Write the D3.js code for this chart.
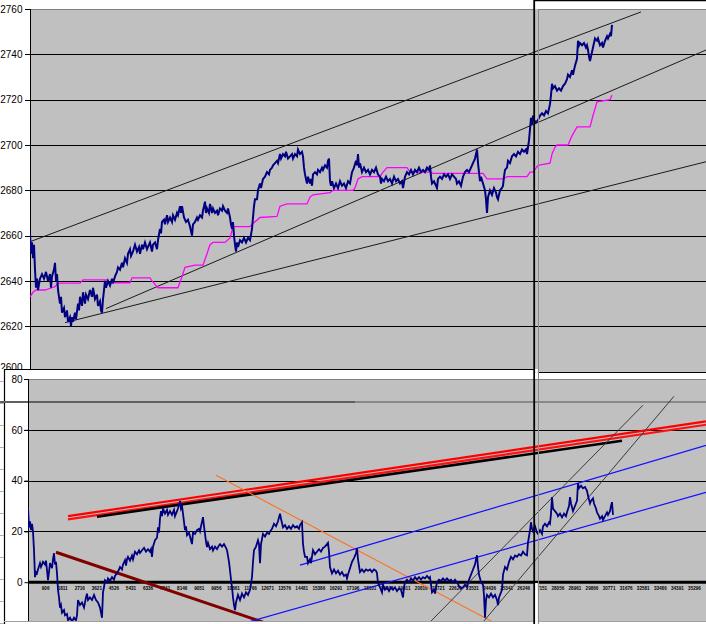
<!DOCTYPE html>
<html><head><meta charset="utf-8">
<script src="https://cdn.jsdelivr.net/npm/d3@7/dist/d3.min.js"></script>
<style>body{margin:0;background:#fff}svg{display:block;font-family:"Liberation Sans",Arial,sans-serif}</style>
</head><body><svg id="c" width="706" height="624"></svg>
<script>
// ---------- DATA ----------
// x = tick (observation) number, y = value
const priceSeries = [[1,2661],[53,2652],[106,2657],[159,2650],[212,2656],[265,2645],[318,2637],[371,2641],[424,2636],[530,2641],[636,2643],[742,2641],[848,2644],[954,2640],[1060,2643],[1113,2637],[1166,2642],[1272,2645],[1325,2648],[1378,2640],[1431,2643],[1484,2636],[1590,2630],[1643,2633],[1696,2626],[1802,2628],[1855,2624],[1961,2627],[2014,2622],[2120,2624],[2173,2620],[2226,2624],[2279,2622],[2385,2626],[2438,2623],[2544,2630],[2597,2627],[2650,2633],[2756,2629],[2809,2635],[2915,2630],[2968,2634],[3074,2632],[3180,2636],[3286,2633],[3339,2637],[3445,2632],[3551,2634],[3604,2629],[3710,2631],[3763,2627],[3816,2626],[3869,2632],[3975,2640],[4028,2637],[4134,2640],[4240,2638],[4346,2641],[4399,2639],[4505,2642],[4611,2644],[4664,2646],[4770,2645],[4876,2648],[4929,2646],[5035,2650],[5141,2648],[5194,2652],[5300,2654],[5353,2651],[5459,2653],[5565,2656],[5671,2653],[5777,2655],[5830,2652],[5936,2656],[5989,2654],[6095,2657],[6201,2654],[6254,2655],[6360,2657],[6466,2653],[6519,2656],[6625,2657],[6731,2654],[6784,2658],[6890,2663],[6943,2661],[6996,2666],[7102,2667],[7155,2665],[7261,2669],[7314,2666],[7420,2668],[7526,2666],[7579,2669],[7685,2667],[7791,2670],[7844,2669],[7950,2673],[8003,2670],[8056,2673],[8162,2668],[8268,2666],[8374,2667],[8480,2664],[8586,2660],[8639,2665],[8745,2666],[8851,2668],[8904,2667],[9010,2669],[9116,2668],[9169,2671],[9222,2673],[9275,2675],[9328,2670],[9381,2672],[9487,2670],[9540,2674],[9646,2670],[9699,2672],[9805,2670],[9911,2671],[9964,2669],[10070,2672],[10176,2671],[10229,2673],[10335,2671],[10441,2670],[10494,2672],[10600,2668],[10653,2665],[10706,2663],[10759,2666],[10812,2660],[10865,2656],[10918,2653],[10971,2657],[11024,2655],[11130,2658],[11236,2657],[11342,2659],[11448,2657],[11554,2659],[11660,2658],[11766,2663],[11819,2668],[11872,2673],[11925,2676],[12031,2676],[12084,2680],[12190,2683],[12243,2681],[12349,2685],[12455,2686],[12561,2688],[12667,2687],[12720,2689],[12826,2690],[12879,2691],[12985,2692],[13091,2693],[13144,2692],[13250,2696],[13303,2694],[13409,2696],[13515,2695],[13568,2697],[13674,2694],[13780,2695],[13886,2696],[13939,2694],[14045,2696],[14151,2695],[14204,2698],[14310,2696],[14416,2697],[14469,2695],[14522,2690],[14575,2687],[14628,2685],[14681,2683],[14734,2686],[14840,2683],[14893,2685],[14946,2682],[14999,2687],[15105,2688],[15211,2687],[15264,2689],[15370,2688],[15476,2690],[15529,2689],[15635,2691],[15741,2690],[15794,2693],[15847,2694],[15900,2684],[15953,2682],[16006,2684],[16112,2681],[16218,2683],[16324,2681],[16430,2684],[16536,2682],[16642,2683],[16748,2681],[16854,2684],[16960,2683],[17066,2688],[17172,2690],[17278,2693],[17331,2691],[17384,2696],[17437,2690],[17490,2692],[17596,2688],[17702,2690],[17808,2688],[17914,2689],[18020,2687],[18126,2689],[18232,2688],[18338,2690],[18444,2687],[18550,2686],[18603,2683],[18656,2685],[18762,2684],[18868,2686],[18974,2684],[19080,2685],[19186,2683],[19292,2686],[19398,2684],[19504,2685],[19610,2683],[19716,2684],[19769,2681],[19875,2686],[19981,2688],[20087,2687],[20193,2689],[20299,2687],[20405,2689],[20511,2688],[20617,2690],[20723,2688],[20829,2689],[20935,2688],[21041,2690],[21147,2689],[21200,2691],[21253,2686],[21306,2683],[21412,2684],[21518,2682],[21571,2681],[21624,2685],[21730,2686],[21836,2685],[21942,2687],[22048,2686],[22154,2687],[22260,2685],[22366,2687],[22472,2686],[22578,2685],[22631,2683],[22737,2684],[22843,2682],[22949,2686],[23055,2688],[23161,2689],[23267,2688],[23373,2690],[23479,2692],[23585,2694],[23638,2696],[23691,2698],[23744,2692],[23797,2688],[23850,2684],[23903,2686],[24009,2683],[24115,2680],[24168,2676],[24221,2670],[24274,2677],[24380,2680],[24486,2678],[24592,2681],[24698,2679],[24751,2677],[24804,2676],[24910,2680],[25016,2681],[25069,2682],[25122,2686],[25175,2689],[25281,2690],[25334,2693],[25440,2692],[25546,2695],[25652,2696],[25758,2695],[25864,2697],[25970,2696],[26076,2698],[26182,2697],[26288,2698],[26341,2696],[26394,2699],[26447,2702],[26500,2707],[26553,2712],[26606,2709],[26659,2713],[26712,2711],[26818,2710],[26924,2711],[27030,2713],[27136,2714],[27242,2713],[27348,2715],[27454,2714],[27560,2718],[27613,2722],[27666,2727],[27719,2725],[27825,2726],[27931,2724],[28037,2725],[28143,2724],[28249,2726],[28355,2727],[28461,2729],[28514,2731],[28620,2730],[28726,2733],[28779,2731],[28885,2735],[28991,2738],[29044,2746],[29097,2744],[29150,2745],[29256,2744],[29362,2745],[29468,2743],[29521,2744],[29574,2742],[29627,2739],[29680,2737],[29733,2739],[29839,2743],[29892,2745],[29945,2747],[30051,2746],[30104,2747],[30210,2744],[30316,2745],[30369,2743],[30475,2746],[30581,2748],[30634,2747],[30740,2749],[30793,2748],[30846,2753]];

const priceAverage = [[1,2633],[159,2635],[318,2636],[795,2636],[1166,2637],[1325,2637.5],[1484,2639],[2650,2639],[2809,2640.5],[4081,2640.5],[4134,2639.2],[5300,2639.2],[5406,2641.4],[6360,2641.4],[6466,2640],[6625,2638.5],[6784,2637],[7844,2637],[8056,2642],[8215,2646],[8745,2647],[9169,2647],[9381,2652],[9540,2656],[9699,2657],[10335,2657],[10600,2659],[10759,2664],[11660,2664],[11766,2665],[12190,2668],[13091,2668.5],[13250,2673],[13621,2674],[14681,2674],[14840,2677],[14999,2678],[15900,2679],[16059,2680],[17119,2680],[17225,2681],[17384,2685],[17596,2686],[18550,2686],[18709,2688],[18921,2690],[19981,2690],[20140,2688],[21200,2688],[21359,2687.5],[24009,2687.5],[24221,2685],[25069,2685],[25281,2686],[26341,2686],[26500,2688],[26659,2688],[26924,2691],[27560,2692],[27666,2696],[27825,2699],[27931,2700],[28514,2700],[28726,2704],[28991,2708],[29680,2708],[29839,2713],[30051,2719],[30740,2720],[30846,2722]];

const priceTrendLines = [
  [[0,2657.3],[32383,2758.7]],
  [[4028,2627.8],[35828,2741.9]],
  [[1855,2621.6],[35828,2692.6]]
];
const priceTicks = [2760,2740,2720,2700,2680,2660,2640,2620,2600];

const oscSeries = [[1,29.5],[53,21.6],[106,24],[159,20.5],[212,23],[265,20],[318,12.6],[371,2],[424,4],[477,3.5],[530,5],[636,7.5],[689,6],[795,8],[901,7],[954,8.5],[1007,4.7],[1060,0.8],[1113,4],[1166,7.5],[1272,5.5],[1325,9],[1378,11.4],[1431,7],[1484,8],[1537,3.5],[1590,-3],[1643,-6],[1696,-10],[1749,-9],[1802,-12],[1908,-11],[1961,-13],[2067,-12.5],[2120,-15],[2226,-14],[2332,-15.5],[2438,-14],[2544,-15],[2597,-13],[2650,-7],[2756,-9],[2862,-8],[2968,-10],[3074,-6],[3127,-4.5],[3180,-7],[3286,-6],[3392,-7],[3498,-5],[3604,-7],[3710,-8],[3816,-10],[3869,-12],[3922,-14],[3975,-4],[4028,-2],[4081,0.8],[4187,0],[4240,1.5],[4346,0.5],[4452,2],[4558,1],[4611,2.5],[4717,3.5],[4823,5],[4876,6],[4982,5],[5035,7],[5141,8.7],[5194,6.5],[5247,9],[5300,10],[5406,8.5],[5512,10.5],[5565,9],[5671,12],[5777,11],[5883,12.5],[5936,11.5],[6042,12.6],[6148,13.5],[6254,12],[6360,13],[6466,12],[6519,13],[6572,10],[6625,14],[6731,16.5],[6837,17.5],[6890,21.6],[6943,19.5],[6996,25],[7049,28],[7102,26],[7155,29],[7261,27],[7367,28.5],[7420,26.5],[7526,28],[7632,26.5],[7738,28.5],[7791,26],[7897,28],[7950,29],[8056,32],[8109,29],[8162,30],[8215,27],[8321,20.5],[8374,22],[8427,18.5],[8533,19.5],[8586,18],[8692,15],[8745,19.5],[8851,19],[8957,20.5],[9063,21],[9116,20],[9169,22],[9275,25.6],[9328,22],[9381,19],[9434,16],[9487,13.8],[9540,15.5],[9646,13],[9752,14],[9805,12.5],[9911,14],[10017,13],[10123,14.5],[10176,15],[10282,14],[10388,15],[10494,13.5],[10547,12.6],[10653,8],[10706,4.7],[10759,1],[10812,-2],[10865,-6],[10918,-9],[10971,-11],[11024,-8],[11130,-5],[11236,-7],[11342,-4.5],[11448,-6],[11554,-4],[11660,-5],[11766,-3],[11872,2],[11925,8],[11978,12.6],[12084,14],[12190,16.5],[12243,15],[12296,7.5],[12349,15],[12455,19],[12561,18],[12667,19.5],[12773,19],[12826,20],[12932,21],[13038,23],[13144,22],[13250,24],[13356,27],[13409,25],[13515,21.6],[13621,22.5],[13727,21],[13833,22],[13939,21],[14045,22.5],[14151,21.5],[14257,22],[14363,21],[14416,22.5],[14522,23.6],[14575,15],[14628,12],[14681,10],[14787,10],[14840,7.5],[14946,9],[14999,7.5],[15105,12.6],[15211,11],[15317,12],[15423,13],[15529,12],[15635,13.5],[15741,14],[15847,15],[15900,15.5],[15953,12],[16006,6],[16112,3.5],[16218,5],[16324,3.5],[16430,4.5],[16536,3],[16642,4],[16748,2.5],[16854,3],[16907,1.5],[16960,3],[17066,5.5],[17172,8],[17278,9.5],[17384,11.4],[17437,13.4],[17490,9],[17596,4],[17702,5],[17808,4],[17914,5],[18020,4.5],[18126,5],[18232,4],[18338,5],[18444,4.5],[18497,3.5],[18550,-0.4],[18656,-2],[18762,-4],[18815,-1],[18921,-3],[19027,-2],[19133,-3.5],[19239,-2],[19345,-3],[19451,-2],[19557,-3.5],[19663,-2.5],[19769,-3],[19875,-6],[19928,-2],[19981,0],[20087,1],[20193,0],[20299,1.5],[20405,0.5],[20511,2],[20617,1],[20723,2],[20829,1],[20935,2],[21041,1.5],[21147,2.5],[21253,1.5],[21306,2],[21359,-1],[21412,-4],[21518,-3],[21571,-4.5],[21677,0],[21783,1],[21889,0.5],[21995,1.5],[22101,0.5],[22207,1.5],[22313,0.5],[22419,1],[22525,0],[22631,1],[22737,0],[22843,-1.5],[22949,-2.4],[23055,-2],[23161,-1],[23267,-2],[23373,1],[23479,3],[23585,5],[23691,7],[23744,9],[23797,10.6],[23850,6],[23903,3],[24009,0],[24115,-1],[24168,-5],[24221,-14],[24274,-7],[24327,-5],[24433,-6],[24539,-4.5],[24645,-6],[24751,-5],[24857,-7],[24910,-9],[24963,-6],[25069,-4],[25122,-3],[25175,3],[25281,6],[25387,5],[25493,8],[25599,10],[25705,9],[25811,10.5],[25917,10],[26023,11],[26129,10.5],[26235,12],[26341,11],[26447,10.6],[26500,15.7],[26553,18],[26606,20.5],[26659,23.6],[26712,21],[26765,20],[26871,22],[26977,19.5],[27030,19],[27136,20.5],[27242,19],[27295,22],[27401,23],[27507,22],[27613,23.5],[27666,23],[27719,27],[27772,33.5],[27825,29],[27931,28],[28037,27],[28090,26],[28196,27],[28302,25.5],[28408,27],[28514,26],[28567,27.5],[28673,30],[28726,33.5],[28779,31],[28885,28],[28991,30],[29097,32],[29150,39],[29203,37],[29309,38],[29415,37],[29521,37.5],[29627,36],[29680,34],[29786,31],[29839,32],[29945,33],[29998,31],[30104,29],[30157,27.5],[30263,26],[30316,25],[30422,26],[30475,24.5],[30581,26],[30687,27.5],[30740,26.5],[30846,28],[30899,30],[30952,31.5],[31005,26.5]];

const oscTrendLines = [
  {name:"redA",   color:"#ff0000", width:2.2, pts:[[2120,26.0],[35934,63.3]]},
  {name:"redB",   color:"#ff1010", width:2.2, pts:[[2120,24.7],[35934,62.0]]},
  {name:"black",  color:"#000000", width:2.6, pts:[[3657,25.8],[31482,55.7]]},
  {name:"maroon", color:"#800000", width:3,   pts:[[1484,11.8],[12455,-15.7]]},
  {name:"orange", color:"#ff7020", width:1.1, pts:[[9964,42.1],[24645,-15.7]]},
  {name:"blueU",  color:"#1010ff", width:1.2, pts:[[14416,6.7],[35934,53.9]]},
  {name:"blueL",  color:"#1010ff", width:1.2, pts:[[11660,-15.7],[35934,35.4]]},
  {name:"chanA",  color:"#3a3a3a", width:1,   pts:[[21306,-15.7],[32595,69.7]]},
  {name:"chanB",  color:"#3a3a3a", width:1,   pts:[[24115,-15.7],[34238,73.2]]}
];
const oscTicks = [80,60,40,20,0];
const categoryLabels = [906,1811,2716,3621,4526,5431,6336,7241,8146,9051,9956,10861,11766,12671,13576,14481,15386,16291,17196,18101,19006,19911,20816,21721,22626,23531,24436,25341,26246,27151,28056,28961,29866,30771,31676,32581,33486,34391,35296];

// ---------- LAYOUT ----------
const svg = d3.select("#c");
const tickMax = 35934;
const gray = "#c0c0c0";

const xT = d3.scaleLinear().domain([0, tickMax]).range([30, 708]);
const yT = d3.scaleLinear().domain([2600, 2760]).range([371.6, 9]);
const xB = d3.scaleLinear().domain([0, tickMax]).range([28, 706]);
const yB = d3.scaleLinear().domain([-15, 80]).range([620.3, 379]);

const defs = svg.append("defs");
defs.append("clipPath").attr("id","clipT").append("rect").attr("x",30).attr("y",9).attr("width",676).attr("height",363);
defs.append("clipPath").attr("id","clipB").append("rect").attr("x",28).attr("y",379).attr("width",678).attr("height",242);
defs.append("clipPath").attr("id","clipLab").append("rect").attr("x",0).attr("y",0).attr("width",30).attr("height",369);

// ---- TOP ----
svg.append("rect").attr("x",30).attr("y",9).attr("width",676).attr("height",363).attr("fill",gray);
const gT = svg.append("g");
gT.append("g").selectAll("line").data(priceTicks.filter(d=>d<2760 && d>2600)).join("line")
  .attr("x1",25).attr("x2",706).attr("y1",d=>Math.round(yT(d))+0.5).attr("y2",d=>Math.round(yT(d))+0.5)
  .attr("stroke","#000").attr("stroke-width",1.2);
gT.append("line").attr("x1",30).attr("x2",534).attr("y1",9.5).attr("y2",9.5).attr("stroke","#808080");
gT.append("line").attr("x1",25).attr("x2",30).attr("y1",9.5).attr("y2",9.5).attr("stroke","#000");
const axT = d3.axisLeft(yT).tickValues(priceTicks).tickSize(0).tickPadding(8).tickFormat(d3.format("d"));
const gax = gT.append("g").attr("clip-path","url(#clipLab)")
  .append("g").attr("transform","translate(30.5,0)").call(axT);
gax.select(".domain").remove();
gax.selectAll("text").attr("font-size",10).attr("fill","#000").attr("font-family","Liberation Sans, Arial, sans-serif");
gax.selectAll(".tick").filter(d=>d===2600).select("text").attr("y",-4);
gT.append("line").attr("x1",30.5).attr("x2",30.5).attr("y1",9).attr("y2",370).attr("stroke","#000");

const pT = gT.append("g").attr("clip-path","url(#clipT)");
const lineT = d3.line().x(d=>xT(d[0])).y(d=>yT(d[1]));
pT.selectAll("path.trend").data(priceTrendLines).join("path").attr("class","trend")
  .attr("d",lineT).attr("fill","none").attr("stroke","#1a1a1a").attr("stroke-width",1);
pT.append("path").datum(priceAverage).attr("d",lineT).attr("fill","none").attr("stroke","#ff00ff").attr("stroke-width",1.3);
pT.append("path").datum(priceSeries).attr("d",lineT).attr("fill","none").attr("stroke","#000080").attr("stroke-width",2);

// ---- BOTTOM FRAME ----
svg.append("rect").attr("x",4).attr("y",369).attr("width",531).attr("height",255).attr("fill","#fff");
svg.append("rect").attr("x",534).attr("y",372).attr("width",172).attr("height",252).attr("fill","#fff");
svg.append("line").attr("x1",4).attr("x2",535).attr("y1",369.5).attr("y2",369.5).attr("stroke","#000").attr("stroke-width",1.2);
svg.append("line").attr("x1",534).attr("x2",706).attr("y1",372.5).attr("y2",372.5).attr("stroke","#000").attr("stroke-width",1.2);
svg.append("line").attr("x1",4.5).attr("x2",4.5).attr("y1",369).attr("y2",624).attr("stroke","#000").attr("stroke-width",1.2);
svg.append("g").selectAll("line").data(d3.range(381, 624, 22)).join("line")
  .attr("x1",0).attr("x2",4).attr("y1",d=>d+0.5).attr("y2",d=>d+0.5).attr("stroke","#b0b0b0");

svg.append("rect").attr("x",28).attr("y",379).attr("width",678).attr("height",242).attr("fill",gray);
const gB = svg.append("g");
gB.append("g").selectAll("line").data(oscTicks.filter(d=>d>0 && d<80)).join("line")
  .attr("x1",24).attr("x2",706).attr("y1",d=>Math.round(yB(d))+0.5).attr("y2",d=>Math.round(yB(d))+0.5)
  .attr("stroke","#000").attr("stroke-width",1.2);
gB.append("line").attr("x1",28).attr("x2",706).attr("y1",379.5).attr("y2",379.5).attr("stroke","#808080");
gB.append("line").attr("x1",24).attr("x2",28).attr("y1",379.5).attr("y2",379.5).attr("stroke","#000");
gB.append("line").attr("x1",28).attr("x2",706).attr("y1",621.5).attr("y2",621.5).attr("stroke","#a0a0a0");
gB.append("line").attr("x1",4).attr("x2",28).attr("y1",621.5).attr("y2",621.5).attr("stroke","#a0a0a0");
gB.append("line").attr("x1",0).attr("x2",355).attr("y1",402).attr("y2",402).attr("stroke","#606060").attr("stroke-width",2);
gB.append("line").attr("x1",355).attr("x2",706).attr("y1",402).attr("y2",402).attr("stroke","#505050").attr("stroke-width",1);

const axB = d3.axisLeft(yB).tickValues(oscTicks).tickSize(4).tickPadding(2).tickFormat(d3.format("d"));
const gaxB = gB.append("g").attr("transform","translate(28.5,0)").call(axB);
gaxB.select(".domain").remove();
gaxB.selectAll("line").attr("stroke","#000");
gaxB.selectAll("text").attr("font-size",10).attr("fill","#000").attr("font-family","Liberation Sans, Arial, sans-serif");
gB.append("line").attr("x1",28.5).attr("x2",28.5).attr("y1",379).attr("y2",621).attr("stroke","#000");

const pB = gB.append("g").attr("clip-path","url(#clipB)");
const lineB = d3.line().x(d=>xB(d[0])).y(d=>yB(d[1]));
pB.append("line").attr("x1",28).attr("x2",706).attr("y1",yB(0)).attr("y2",yB(0)).attr("stroke","#000").attr("stroke-width",3);
const axX = d3.axisBottom(xB).tickValues(categoryLabels).tickSize(0).tickPadding(5).tickFormat(d3.format("d"));
const gx = pB.append("g").attr("transform",`translate(0,${yB(0)})`).call(axX);
gx.select(".domain").remove();
gx.selectAll("text").attr("font-size",4.6).attr("font-weight","bold").attr("fill","#000")
  .attr("font-family","Liberation Sans, Arial, sans-serif");

pB.selectAll("path.trend").data(oscTrendLines).join("path").attr("class","trend")
  .attr("d",d=>lineB(d.pts)).attr("fill","none").attr("stroke",d=>d.color).attr("stroke-width",d=>d.width);
pB.append("path").datum(oscSeries).attr("d",lineB).attr("fill","none").attr("stroke","#000080").attr("stroke-width",1.8);

// ---- RIGHT OVERLAY WINDOW FRAME ----
svg.append("rect").attr("x",535).attr("y",0).attr("width",171).attr("height",9).attr("fill","#fff");
svg.append("line").attr("x1",534).attr("x2",706).attr("y1",0.5).attr("y2",0.5).attr("stroke","#000").attr("stroke-width",1.5);
svg.append("line").attr("x1",538).attr("x2",706).attr("y1",9.5).attr("y2",9.5).attr("stroke","#808080");
svg.append("line").attr("x1",534.2).attr("x2",534.2).attr("y1",0).attr("y2",624).attr("stroke","#000").attr("stroke-width",1.8);
svg.append("line").attr("x1",538.5).attr("x2",538.5).attr("y1",9).attr("y2",624).attr("stroke","#8a8a8a");
svg.append("rect").attr("x",535.2).attr("y",583).attr("width",2.6).attr("height",41).attr("fill","#fff");
svg.append("rect").attr("x",535.2).attr("y",369).attr("width",2.6).attr("height",10).attr("fill","#fff");
</script></body></html>
